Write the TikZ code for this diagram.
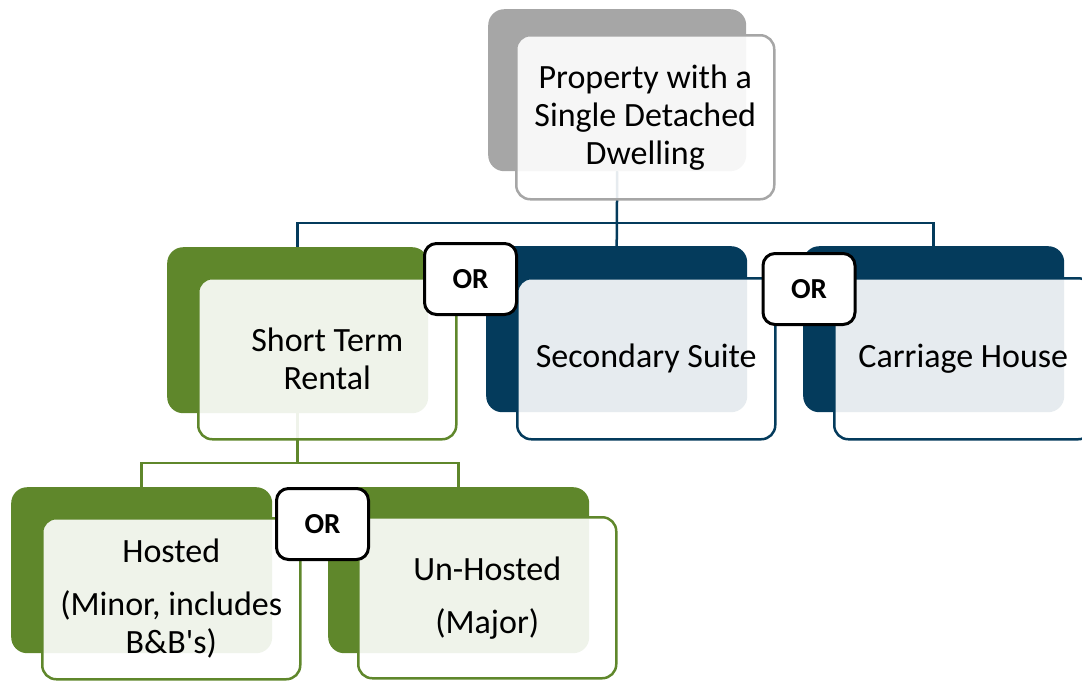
\documentclass[tikz,border=0pt]{standalone}
\usepackage{fontspec}
\setmainfont{Carlito}[Ligatures=TeXOff]
\usetikzlibrary{backgrounds}
\definecolor{leafgreen}{HTML}{5F872B}
\definecolor{deepblue}{HTML}{043B5C}
\definecolor{stonegray}{HTML}{A6A6A6}
\tikzset{
  backbox/.style={rectangle, rounded corners=16pt, minimum width=261pt,
    minimum height=166pt, inner sep=0pt, anchor=north west},
  frontbox/.style={rectangle, rounded corners=14pt, minimum width=258pt,
    minimum height=161pt, fill=white, fill opacity=0.9, text opacity=1,
    line width=2.5pt, anchor=north west, align=center, inner sep=0pt,
    font=\fontsize{34}{38}\selectfont},
  orbox/.style={rectangle, rounded corners=12pt, draw=black, line width=3pt,
    fill=white, minimum width=92pt, minimum height=71pt, inner sep=0pt,
    font=\fontsize{29}{34}\selectfont\bfseries},
  conn/.style={line width=2.5pt},
}
\begin{document}
\begin{tikzpicture}[x=1pt, y=-1pt]
\useasboundingbox (0,0) rectangle (1082,681);
\clip (0,0) rectangle (1082,681);

% bus levels of the hierarchy
\coordinate (bus1) at (0,223);
\coordinate (bus2) at (0,463);

% top level
\node[backbox, fill=stonegray, minimum width=258pt, minimum height=162pt] (pbB) at (488,9) {};
\node[frontbox, draw=stonegray, minimum height=164pt] (pbF) at (515,34)
  {Property with a\\Single Detached\\Dwelling};

% second level
\node[backbox, fill=leafgreen] (strB) at (167,247) {};
\node[frontbox, draw=leafgreen] (strF) at (197,277) {Short Term\\Rental};
\node[backbox, fill=deepblue] (ssB) at (486,246) {};
\node[frontbox, draw=deepblue] (ssF) at (516,277) {Secondary Suite};
\node[backbox, fill=deepblue] (chB) at (803,246) {};
\node[frontbox, draw=deepblue] (chF) at (833,277) {Carriage House};

% third level
\node[backbox, fill=leafgreen] (hB) at (11,487) {};
\node[frontbox, draw=leafgreen] (hF) at (41,517)
  {Hosted\\[15pt](Minor, includes\\B\&B's)};
\node[backbox, fill=leafgreen] (uhB) at (328,487) {};
\node[frontbox, draw=leafgreen] (uhF) at (357,516)
  {Un-Hosted\\[15pt](Major)};

% connectors behind the boxes
\begin{pgfonlayer}{background}
  \draw[conn, deepblue] (pbB.south) -- (pbB.south |- bus1) -| (strB.north);
  \draw[conn, deepblue] (pbB.south) -- (ssB.north);
  \draw[conn, deepblue] (pbB.south |- bus1) -| (chB.north);
  \draw[conn, leafgreen] (strB.south) -- (strB.south |- bus2) -| (hB.north);
  \draw[conn, leafgreen] (strB.south |- bus2) -| (uhB.north);
\end{pgfonlayer}

% choice markers
\node[orbox] (or1) at (470.5,279) {OR};
\node[orbox] (or2) at (809,289) {OR};
\node[orbox] (or3) at (322.5,524) {OR};
\end{tikzpicture}
\end{document}
